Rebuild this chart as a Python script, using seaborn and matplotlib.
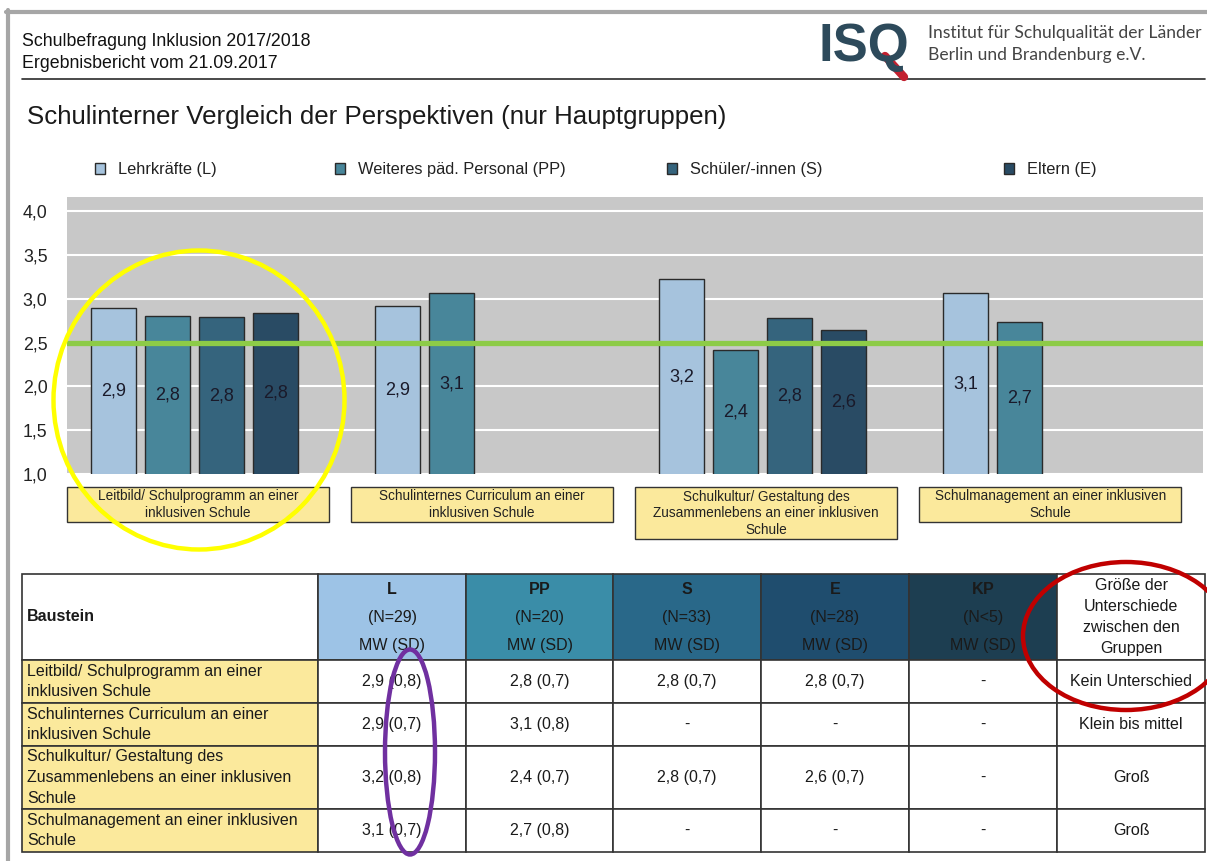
import numpy as np
import pandas as pd
import seaborn as sns
import matplotlib.pyplot as plt
from matplotlib.patches import Rectangle, Ellipse
from matplotlib.lines import Line2D
from matplotlib.table import Table
from matplotlib import transforms
from matplotlib.ticker import FuncFormatter

bausteine = ['Leitbild/ Schulprogramm an einer\ninklusiven Schule',
             'Schulinternes Curriculum an einer\ninklusiven Schule',
             'Schulkultur/ Gestaltung des\nZusammenlebens an einer inklusiven\nSchule',
             'Schulmanagement an einer inklusiven\nSchule']
gruppen = ['Lehrkräfte (L)', 'Weiteres päd. Personal (PP)', 'Schüler/-innen (S)', 'Eltern (E)']
mw_L = [2.89, 2.92, 3.22, 3.06]
mw_PP = [2.80, 3.06, 2.41, 2.73]
mw_S = [2.79, np.nan, 2.78, np.nan]
mw_E = [2.84, np.nan, 2.64, np.nan]
referenz = 2.5

kurz = ['L', 'PP', 'S', 'E', 'KP']
n_text = ['(N=29)', '(N=20)', '(N=33)', '(N=28)', '(N<5)']
tab_L = ['2,9 (0,8)', '2,9 (0,7)', '3,2 (0,8)', '3,1 (0,7)']
tab_PP = ['2,8 (0,7)', '3,1 (0,8)', '2,4 (0,7)', '2,7 (0,8)']
tab_S = ['2,8 (0,7)', '-', '2,8 (0,7)', '-']
tab_E = ['2,8 (0,7)', '-', '2,6 (0,7)', '-']
tab_KP = ['-', '-', '-', '-']
unterschied = ['Kein Unterschied', 'Klein bis mittel', 'Groß', 'Groß']

farben = ['#9DC3E6', '#3A8DA8', '#296889', '#1F4D6E']
kp_farbe = '#1D3E51'
gelb = '#FBE99C'

sns.set_style('white')
plt.rcParams['font.family'] = ['Liberation Sans', 'DejaVu Sans']
plt.rcParams['mathtext.fontset'] = 'custom'
plt.rcParams['mathtext.rm'] = 'Liberation Sans'
plt.rcParams['mathtext.bf'] = 'Liberation Sans:bold'

W, H = 1207, 861
fig = plt.figure(figsize=(W / 100, H / 100), dpi=100)

df = pd.DataFrame({'Baustein': bausteine * 4,
                   'Gruppe': np.repeat(gruppen, 4),
                   'MW': mw_L + mw_PP + mw_S + mw_E})

ax = fig.add_axes([67 / W, 1 - 474 / H, 1136 / W, 277 / H])
sns.barplot(data=df, x='Baustein', y='MW', hue='Gruppe', order=bausteine,
            hue_order=gruppen, palette=farben, width=0.76, gap=0.17,
            edgecolor='#2a2a2a', linewidth=1, errorbar=None, legend=False, ax=ax)
ax.set_facecolor('#C8C8C8')
ax.set_xlim(-0.449, 3.551)
ax.set_ylim(1, 4.16)
ax.set_yticks(np.arange(1, 4.01, 0.5))
ax.yaxis.set_major_formatter(FuncFormatter(lambda v, p: f'{v:.1f}'.replace('.', ',')))
ax.tick_params(axis='y', length=0, pad=14, labelsize=12.8, labelcolor='#222222')
ax.set_xticks([])
ax.set_xlabel('')
ax.set_ylabel('')
for s in ax.spines.values():
    s.set_visible(False)
ax.grid(axis='y', color='white', lw=1.5)
ax.set_axisbelow(True)
ax.axhline(referenz, color='#8DCB47', lw=3.8, zorder=5)

for cont in ax.containers:
    for bar in cont:
        h = bar.get_height()
        if np.isnan(h):
            continue
        ax.text(bar.get_x() + bar.get_width() / 2, (1 + h) / 2,
                f'{h:.1f}'.replace('.', ','), ha='center', va='center',
                fontsize=13, color='#1a1a2a', zorder=6)

# category boxes under the axis
blend = transforms.blended_transform_factory(ax.transData, fig.transFigure)
for i, name in enumerate(bausteine):
    n = name.count('\n') + 1
    top = 1 - 487 / H
    hgt = (17.3 * n + 0.5) / H
    xc = i + 0.013
    ax.add_patch(Rectangle((xc - 0.461, top - hgt), 0.9225, hgt, transform=blend,
                           facecolor=gelb, edgecolor='#333333', lw=1, clip_on=False))
    ax.text(xc, top - hgt / 2, name, transform=blend, ha='center', va='center',
            fontsize=9.8, linespacing=1.22, color='#222222', clip_on=False)

# legend items
for cont, lab, x in zip(ax.containers, gruppen, [95, 335, 667, 1004]):
    fig.legend(handles=[cont], labels=[lab], loc='center left',
               bbox_to_anchor=(x / W, 1 - 170 / H), frameon=False, borderpad=0,
               borderaxespad=0, handlelength=0.62, handleheight=0.62,
               handletextpad=0.8, fontsize=11.8, labelcolor='#222222')

# header
fig.text(22 / W, 1 - 41 / H, 'Schulbefragung Inklusion 2017/2018', fontsize=12.8,
         va='center', color='#111111')
fig.text(22 / W, 1 - 63 / H, 'Ergebnisbericht vom 21.09.2017', fontsize=12.8,
         va='center', color='#111111')
fig.add_artist(Line2D([22 / W, 1205 / W], [1 - 79 / H] * 2, transform=fig.transFigure,
                      color='#2a2a2a', lw=1.2))
fig.text(818 / W, 1 - 47 / H, 'ISQ', fontsize=38, fontweight='bold', va='center',
         color='#2D4A5B')
fig.add_artist(Line2D([885 / W, 904 / W], [1 - 56 / H, 1 - 77 / H], transform=fig.transFigure,
                      color='#C2202F', lw=6, solid_capstyle='round'))
fig.text(928 / W, 1 - 33 / H, 'Institut für Schulqualität der Länder', fontsize=12.6,
         family='Lato', va='center', color='#444444')
fig.text(928 / W, 1 - 55 / H, 'Berlin und Brandenburg e.V.', fontsize=12.6,
         family='Lato', va='center', color='#444444')
fig.text(27 / W, 1 - 117 / H, 'Schulinterner Vergleich der Perspektiven (nur Hauptgruppen)',
         fontsize=18.6, va='center', color='#1a1a1a')

# page frame
fig.add_artist(Line2D([6 / W, 1], [1 - 12 / H] * 2, transform=fig.transFigure,
                      color='#A6A6A6', lw=3))
fig.add_artist(Line2D([8 / W, 8 / W], [0, 1 - 10 / H], transform=fig.transFigure,
                      color='#A6A6A6', lw=3))

# table
tax = fig.add_axes([22 / W, 1 - 852 / H, 1183 / W, 278 / H])
tax.axis('off')
tbl = Table(tax, bbox=[0, 0, 1, 1])
col_w = [296, 148, 147, 148, 148, 148, 148]
row_h = [86, 43, 43, 63, 43]
head_fc = farben + [kp_farbe]

def put(r, c, text, loc, fc, weight='normal', ls=1.48):
    cell = tbl.add_cell(r, c, width=col_w[c], height=row_h[r], text=text, loc=loc,
                        facecolor=fc, edgecolor='#333333')
    cell.set_linewidth(1.2)
    if loc == 'left':
        cell.PAD = 5 / col_w[c]
    t = cell.get_text()
    t.set_fontsize(11.5)
    t.set_linespacing(ls)
    t.set_fontweight(weight)
    t.set_color('#1a1a1a')
    return cell

put(0, 0, 'Baustein', 'left', 'white', weight='bold')
for j, (k, n) in enumerate(zip(kurz, n_text)):
    put(0, j + 1, f'$\\mathbf{{{k}}}$\n{n}\nMW (SD)', 'center', head_fc[j], ls=2.05)
put(0, 6, 'Größe der\nUnterschiede\nzwischen den\nGruppen', 'center', 'white', ls=1.48)

spalten = [tab_L, tab_PP, tab_S, tab_E, tab_KP, unterschied]
for r in range(4):
    put(r + 1, 0, bausteine[r], 'left', gelb)
    for c, sp in enumerate(spalten):
        put(r + 1, c + 1, sp[r], 'center', 'white')
tbl.auto_set_font_size(False)
tax.add_table(tbl)

# highlight marks
fig.add_artist(Ellipse((199 / W, 1 - 400 / H), 291 / W, 299 / H, transform=fig.transFigure,
                       fill=False, ec='#FFFF00', lw=3.2, zorder=20))
fig.add_artist(Ellipse((410 / W, 1 - 752 / H), 50 / W, 205 / H, transform=fig.transFigure,
                       fill=False, ec='#7030A0', lw=3.2, zorder=20))
fig.add_artist(Ellipse((1126 / W, 1 - 636 / H), 206 / W, 148 / H, transform=fig.transFigure,
                       fill=False, ec='#C00000', lw=3.2, zorder=20))

fig.savefig('out.png', dpi=100)
